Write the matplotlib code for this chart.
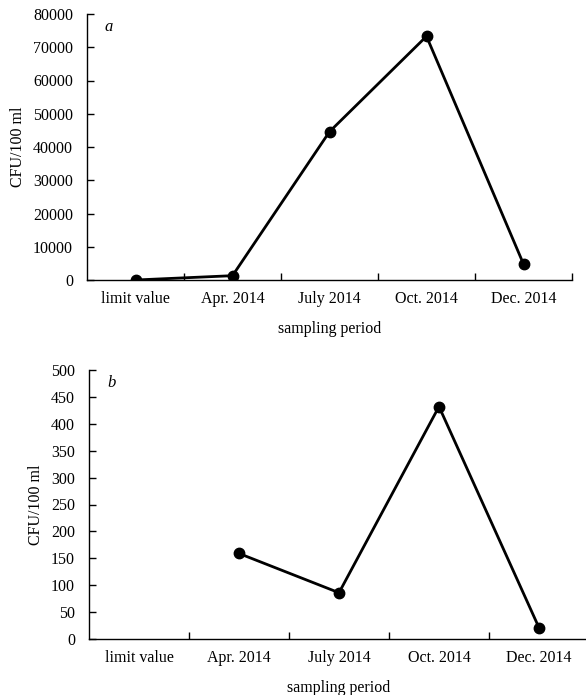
import numpy as np
import matplotlib
matplotlib.use("Agg")
from matplotlib import pyplot as plt

plt.rcParams['font.family'] = ['Liberation Serif', 'DejaVu Serif']
plt.rcParams['font.size'] = 11.5

periods = ['limit value', 'Apr. 2014', 'July 2014', 'Oct. 2014', 'Dec. 2014']
vals_a = [0, 1300, 44600, 73300, 4800]
vals_b = [np.nan, 159, 86, 432, 21]

fig = plt.figure(figsize=(5.86, 6.95), dpi=100)
ax1 = fig.add_axes([87/586, 415/695, 485/586, 266/695])
ax2 = fig.add_axes([89/586, 56/695, 500/586, 269/695])


def style(ax, vals, ymax, step, letter):
    x = np.arange(len(periods))
    ax.plot(x, vals, color='black', lw=2, marker='o', ms=7.5)
    ax.set_xlim(-0.5, len(periods) - 0.5)
    ax.set_ylim(0, ymax)
    ax.set_yticks(np.arange(0, ymax + 1, step))
    ax.set_xticks(x)
    ax.set_xticklabels(periods)
    ax.set_xticks(np.arange(0.5, len(periods), 1), minor=True)
    ax.tick_params(axis='x', which='major', length=0, pad=8)
    ax.tick_params(axis='x', which='minor', direction='in', length=5, width=1)
    ax.tick_params(axis='y', direction='in', length=5, width=1, pad=10)
    for s in ['top', 'right']:
        ax.spines[s].set_visible(False)
    for s in ['left', 'bottom']:
        ax.spines[s].set_linewidth(1)
    ax.set_ylabel('CFU/100 ml', labelpad=5)
    ax.set_xlabel('sampling period', labelpad=10)
    ax.text(0.036, 0.95, letter, transform=ax.transAxes, style='italic',
            ha='left', va='center', fontsize=12)


style(ax1, vals_a, 80000, 10000, 'a')
ax1.set_xticks(np.arange(0.5, len(periods) + 0.5, 1), minor=True)
style(ax2, vals_b, 500, 50, 'b')

fig.savefig('out.png', dpi=100)
